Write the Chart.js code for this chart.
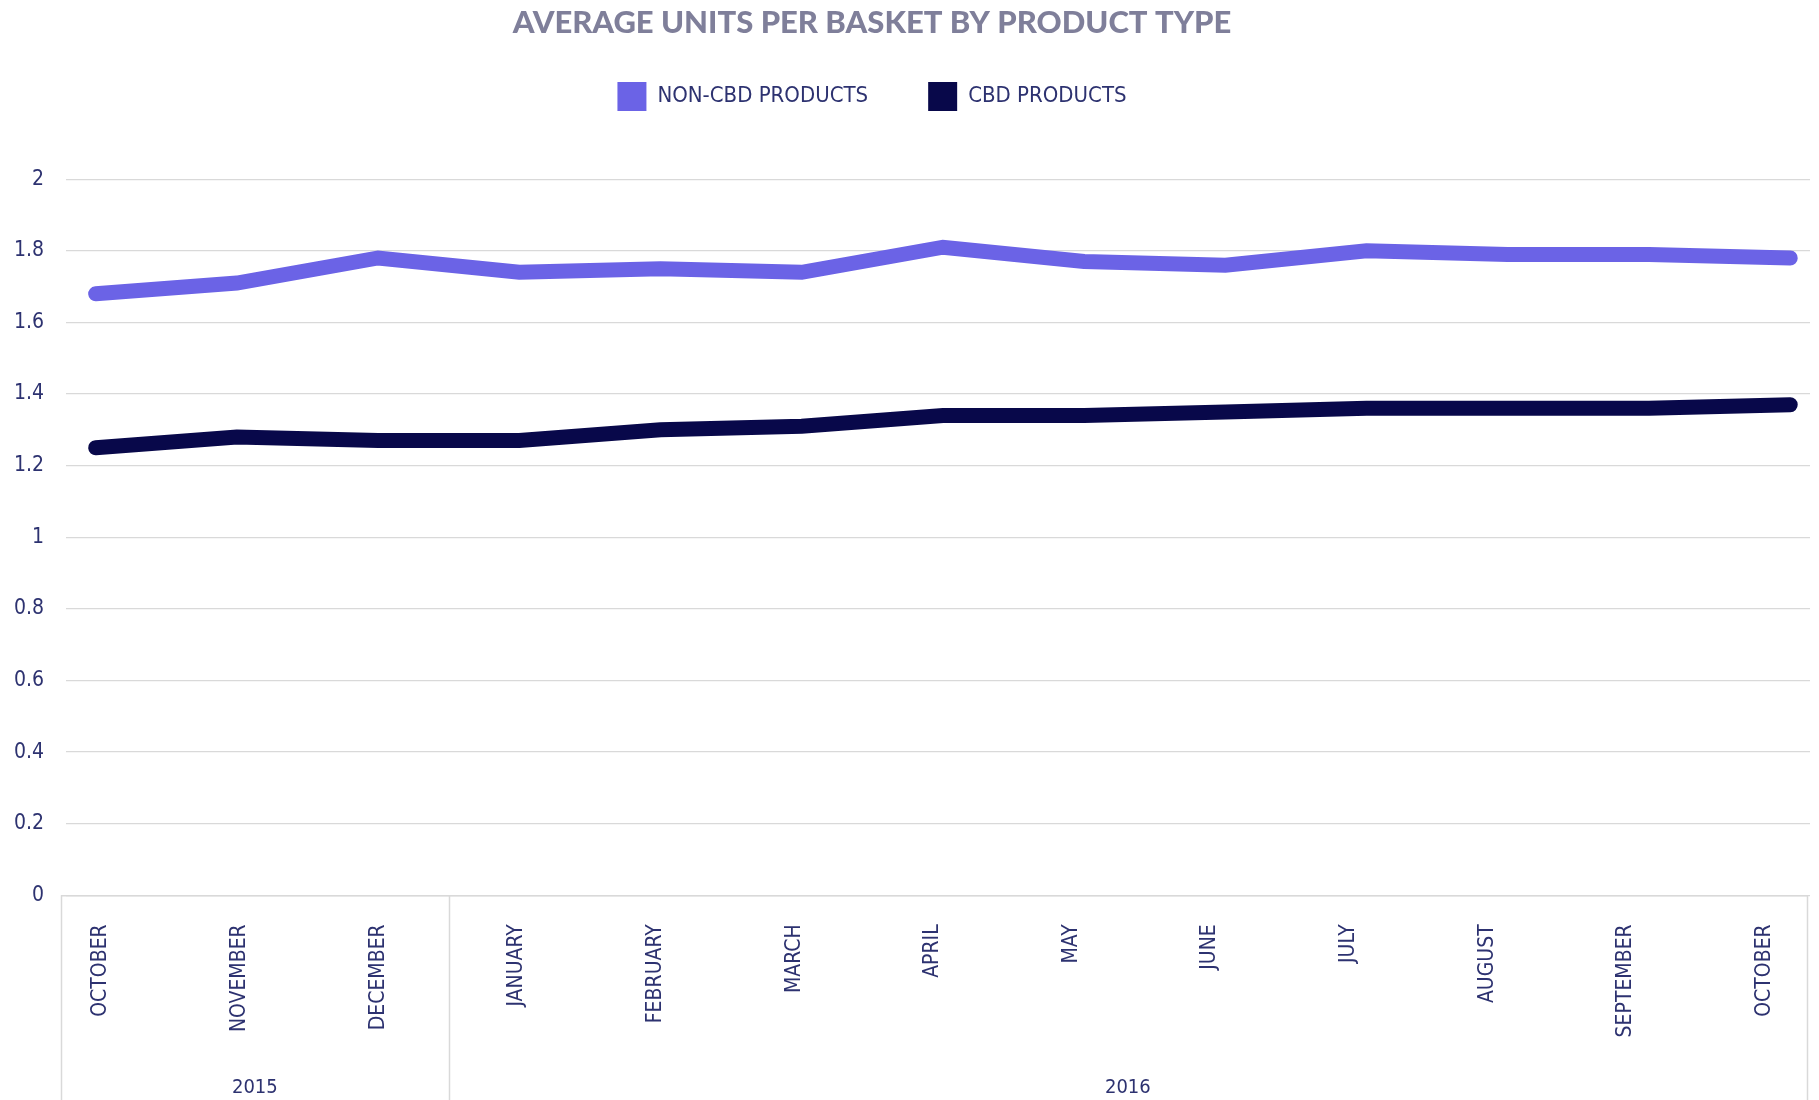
<!DOCTYPE html>
<html>
<head>
<meta charset="utf-8">
<title>Average units per basket by product type</title>
<script src="https://cdn.jsdelivr.net/npm/chart.js@4.4.1/dist/chart.umd.min.js"></script>
<style>
  html, body { margin: 0; padding: 0; background: #ffffff; }
  #wrap { width: 1819px; height: 1100px; }
</style>
</head>
<body>
<div id="wrap"><canvas id="chart" width="1819" height="1100"></canvas></div>
<script>
// Months along the axis and the year groups that hold them
const months = ['OCTOBER', 'NOVEMBER', 'DECEMBER', 'JANUARY', 'FEBRUARY', 'MARCH', 'APRIL',
                'MAY', 'JUNE', 'JULY', 'AUGUST', 'SEPTEMBER', 'OCTOBER'];
const years = ['2015', '2016'];
const yearMonthCounts = [3, 10];

// Average units per basket
const nonCbdUnits = [1.68, 1.71, 1.78, 1.74, 1.75, 1.74, 1.81, 1.77, 1.76, 1.80, 1.79, 1.79, 1.78];
const cbdUnits    = [1.25, 1.28, 1.27, 1.27, 1.30, 1.31, 1.34, 1.34, 1.35, 1.36, 1.36, 1.36, 1.37];

const seriesNames = ['NON-CBD PRODUCTS', 'CBD PRODUCTS'];
const chartTitle = 'AVERAGE UNITS PER BASKET BY PRODUCT TYPE';

const PURPLE = '#6b63e6';
const NAVY = '#08084a';
const TEXT = '#2d3270';
const GRID = '#d9d9d9';
const FONT = '"DejaVu Sans Condensed", "DejaVu Sans", sans-serif';

const toPoints = arr => arr.map((v, i) => ({ x: i, y: v }));
const monthTicks = axis => { axis.ticks = months.map((_, i) => ({ value: i })); };

// Nudge the title and legend into place once the layout is known
const headerOffset = {
  id: 'headerOffset',
  afterLayout(chart) {
    const dx = -33;
    const t = chart.titleBlock;
    if (t) { t.left += dx; t.right += dx; }
    const l = chart.legend;
    if (l) {
      const dy = 22 - l.top;
      l.left += dx; l.right += dx;
      l.top += dy; l.bottom += dy;
    }
  }
};

// Grouped year band under the month labels
const yearBand = {
  id: 'yearBand',
  afterDraw(chart) {
    const ctx = chart.ctx;
    const xs = chart.scales.x;
    const ys = chart.scales.y;
    const area = chart.chartArea;
    const axisY = ys.getPixelForValue(0);
    const bottom = chart.height;
    const boxLeft = area.left - 5;
    const boxRight = area.right - 3;

    const edges = [boxLeft];
    let count = 0;
    yearMonthCounts.forEach((n, i) => {
      count += n;
      edges.push(i === yearMonthCounts.length - 1 ? boxRight : xs.getPixelForValue(count - 0.5));
    });

    ctx.save();
    ctx.strokeStyle = GRID;
    ctx.lineWidth = 1.5;
    ctx.beginPath();
    ctx.moveTo(boxLeft, axisY + 0.5);
    ctx.lineTo(boxRight, axisY + 0.5);
    edges.forEach(e => {
      ctx.moveTo(Math.round(e) + 0.5, axisY);
      ctx.lineTo(Math.round(e) + 0.5, bottom);
    });
    ctx.stroke();

    ctx.fillStyle = TEXT;
    ctx.font = '20px ' + FONT;
    ctx.textAlign = 'center';
    ctx.textBaseline = 'middle';
    years.forEach((yr, i) => {
      ctx.fillText(yr, (edges[i] + edges[i + 1]) / 2, 1088);
    });
    ctx.restore();
  }
};

new Chart(document.getElementById('chart'), {
  type: 'line',
  data: {
    datasets: [
      {
        label: seriesNames[0],
        data: toPoints(nonCbdUnits),
        borderColor: PURPLE,
        backgroundColor: PURPLE,
        borderWidth: 15,
        borderCapStyle: 'round',
        borderJoinStyle: 'miter',
        pointRadius: 0,
        tension: 0
      },
      {
        label: seriesNames[1],
        data: toPoints(cbdUnits),
        borderColor: NAVY,
        backgroundColor: NAVY,
        borderWidth: 15,
        borderCapStyle: 'round',
        borderJoinStyle: 'miter',
        pointRadius: 0,
        tension: 0
      }
    ]
  },
  options: {
    responsive: false,
    devicePixelRatio: 1,
    animation: false,
    layout: { padding: { top: 0, left: 0, right: 9, bottom: 0 } },
    plugins: {
      tooltip: { enabled: false },
      title: {
        display: true,
        text: chartTitle,
        color: '#7f7f9a',
        font: { family: 'Lato, sans-serif', size: 31, weight: '900', lineHeight: 1.2 },
        padding: { top: 4, bottom: 39 }
      },
      legend: {
        display: true,
        position: 'top',
        labels: {
          boxWidth: 29,
          boxHeight: 29,
          padding: 60,
          color: TEXT,
          font: { family: FONT, size: 22 },
          generateLabels(chart) {
            return chart.data.datasets.map((ds, i) => ({
              text: ds.label,
              fillStyle: ds.borderColor,
              strokeStyle: ds.borderColor,
              lineWidth: 0,
              fontColor: TEXT,
              hidden: false,
              datasetIndex: i
            }));
          }
        }
      }
    },
    scales: {
      // value axis for the points
      x: {
        type: 'linear',
        display: false,
        min: -0.21,
        max: 12.14,
        afterBuildTicks: monthTicks
      },
      // month label band
      months: {
        type: 'linear',
        position: 'bottom',
        min: -0.2525,
        max: 12.329,
        grid: { display: false, drawTicks: false },
        border: { display: false },
        afterBuildTicks: monthTicks,
        afterFit(axis) {
          axis.height = 204.7;
          axis.paddingLeft = 0;
          axis.paddingRight = 0;
        },
        ticks: {
          autoSkip: false,
          minRotation: 90,
          maxRotation: 90,
          padding: 29,
          color: TEXT,
          font: { family: FONT, size: 21 },
          callback: v => months[v]
        }
      },
      y: {
        min: 0,
        max: 2,
        grid: { color: GRID, lineWidth: 1.3, drawTicks: false },
        border: { display: false },
        afterFit(axis) { axis.width = 66; },
        ticks: {
          stepSize: 0.2,
          padding: 22,
          color: TEXT,
          font: { family: FONT, size: 21 },
          callback: v => String(Math.round(v * 10) / 10)
        }
      }
    }
  },
  plugins: [headerOffset, yearBand]
});
</script>
</body>
</html>
